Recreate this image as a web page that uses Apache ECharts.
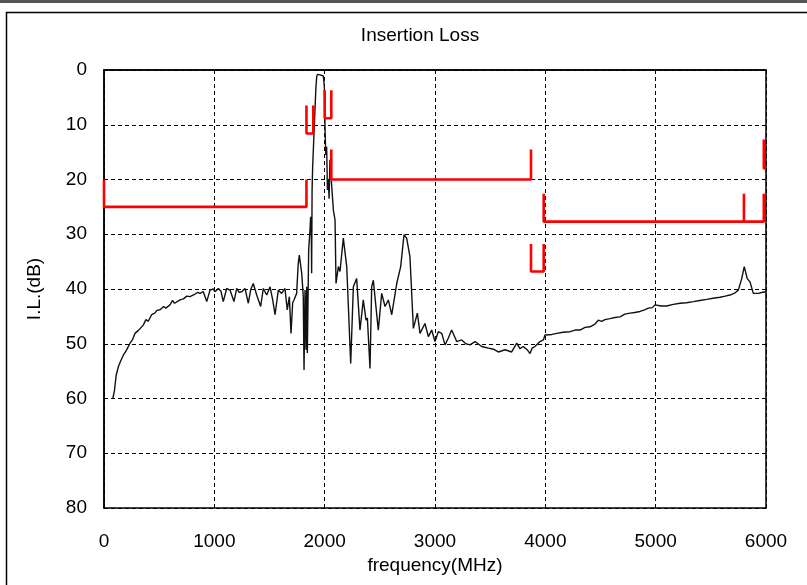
<!DOCTYPE html>
<html>
<head>
<meta charset="utf-8">
<script src="https://cdn.jsdelivr.net/npm/echarts@6/dist/echarts.min.js"></script>
<style>
html,body{margin:0;padding:0;background:#fff;}
#chart{width:807px;height:585px;}
</style>
</head>
<body>
<div id="chart"></div>
<script>
// Measured insertion loss curve: [frequency MHz, loss dB]
var lossCurve = [
[80,60],[95,58.5],[110,55.8],[130,54.2],[150,53.2],[175,52.1],[200,51.3],[236,49.9],[260,49.2],[281,48.1],
[310,47.6],[356,46.6],[380,45.6],[400,45.9],[432,44.7],[460,44.4],[480,43.9],[508,43.8],[540,43.2],[560,43.5],
[598,42.9],[620,42.1],[640,42.6],[689,42.0],[720,41.8],[750,41.3],[780,41.4],[820,41.0],[850,40.6],[870,40.8],
[900,40.5],[931,42.3],[961,40.2],[990,40.0],[1006,40.5],[1036,39.9],[1060,40.4],[1081,42.3],[1112,39.9],[1142,40.2],
[1178,42.3],[1203,39.9],[1225,40.6],[1248,40.5],[1278,39.9],[1308,42.6],[1330,40.1],[1353,39.0],[1384,41.1],[1420,43.2],
[1444,39.9],[1475,41.1],[1505,39.6],[1529,42.0],[1550,44.7],[1580,40.2],[1610,40.8],[1640,39.9],[1661,43.8],[1680,41.4],
[1695,48.1],[1710,42.5],[1722,42.0],[1746,40.8],[1760,35.5],[1770,33.8],[1792,37.1],[1806,41.4],[1813,54.8],[1822,40.2],
[1831,51.1],[1837,39.6],[1843,51.7],[1855,32.9],[1867,29.2],[1873,26.8],[1878,27.5],[1882,37.1],[1886,22.0],[1891,17.7],
[1912,7.3],[1920,3.5],[1928,1.2],[1935,0.8],[1958,0.9],[1975,0.9],[1988,1.1],[1997,3.0],[2003,10.4],[2010,15.5],
[2018,14.0],[2025,21.9],[2034,20.1],[2040,23.5],[2048,16.4],[2064,21.3],[2079,25.6],[2094,27.4],[2103,39.0],[2124,35.9],
[2139,36.8],[2169,30.7],[2200,35.9],[2236,53.6],[2260,39.6],[2290,38.1],[2320,47.5],[2350,42.0],[2375,45.7],[2387,45.3],
[2411,54.5],[2426,39.6],[2441,38.4],[2486,47.5],[2517,40.8],[2547,43.2],[2577,42.0],[2608,44.7],[2653,39.0],[2689,35.9],
[2719,30.1],[2743,30.7],[2773,34.1],[2804,47.2],[2840,44.4],[2864,48.1],[2909,46.3],[2940,48.7],[2970,47.5],[3000,49.6],
[3030,47.8],[3061,48.1],[3091,50.2],[3120,49.0],[3151,47.5],[3197,49.6],[3242,49.3],[3280,50.0],[3317,50.2],[3363,49.6],
[3423,50.5],[3484,50.8],[3530,51.0],[3574,51.5],[3635,51.1],[3695,51.5],[3741,49.9],[3770,50.9],[3800,50.5],[3840,51.2],
[3861,51.8],[3880,50.8],[3906,50.5],[3952,49.6],[3982,49.3],[3997,48.4],[4012,48.4],[4060,48.3],[4103,48.1],[4160,47.9],
[4224,47.8],[4270,47.5],[4314,47.5],[4360,47.0],[4405,46.9],[4450,46.4],[4480,45.7],[4511,45.9],[4540,45.6],[4586,45.4],
[4630,45.2],[4677,45.1],[4720,44.6],[4768,44.4],[4810,44.3],[4858,44.1],[4900,43.8],[4934,43.5],[4970,43.4],[4994,42.9],
[5050,43.1],[5100,43.1],[5160,42.8],[5221,42.6],[5280,42.5],[5341,42.3],[5400,42.1],[5462,41.9],[5520,41.7],[5583,41.5],
[5630,41.3],[5674,41.1],[5720,40.7],[5749,40.2],[5780,38.1],[5803,35.9],[5830,38.1],[5855,38.7],[5885,40.8],[5931,40.8],
[5970,40.6],[6000,40.5]
];

// Specification mask segments (red): [frequency MHz, dB]
var maskA = [[0,20],[0,25],[1835,25],[1835,20]];
var maskB = [[1835,6.5],[1835,11.6],[1897,11.6],[1897,6.5]];
var maskC = [[2000,3.7],[2000,8.8],[2060,8.8],[2060,3.7]];
var maskD = [[2060,14.5],[2060,20],[3870,20],[3870,14.5]];
var maskE = [[3870,31.8],[3870,36.8],[3985,36.8],[3985,31.8]];
var maskF = [[3985,22.6],[3985,27.7],[5980,27.7],[5980,22.6]];
var maskG = [[5800,22.6],[5800,27.7]];
var maskH = [[5980,12.7],[5980,18],[6000,18]];
var masks = [maskA, maskB, maskC, maskD, maskE, maskF, maskG, maskH];

var xTicks = [0, 6000, 1000];   // min, max, interval
var yTicks = [0, 80, 10];

var FONT = "'Liberation Sans', Arial, sans-serif";

var chart = echarts.init(document.getElementById('chart'), null, {renderer: 'canvas'});

var series = [{
  type: 'line',
  data: lossCurve,
  showSymbol: false,
  symbol: 'none',
  lineStyle: {color: '#111', width: 1.4},
  z: 3,
  animation: false
}];
masks.forEach(function (m) {
  series.push({
    type: 'line',
    data: m,
    symbol: 'none',
    lineStyle: {color: '#ff0000', width: 2.6},
    z: 4,
    clip: false,
    animation: false
  });
});

chart.setOption({
  animation: false,
  backgroundColor: '#fff',
  textStyle: {fontFamily: FONT},
  graphic: [
    {type: 'rect', shape: {x: 0, y: 0, width: 807, height: 3}, style: {fill: '#555'}, silent: true},
    {type: 'rect', shape: {x: 6.5, y: 12.5, width: 820, height: 600}, style: {fill: 'none', stroke: '#000', lineWidth: 1.5}, silent: true, z: -1},
    {type: 'text', x: 420, y: 36, style: {text: 'Insertion Loss', font: '19px ' + FONT, fill: '#000', textAlign: 'center', textVerticalAlign: 'middle'}, silent: true}
  ],
  grid: {
    left: 104, top: 70, right: 41, bottom: 77,
    show: true, borderColor: '#000', borderWidth: 1.5, backgroundColor: '#fff'
  },
  xAxis: {
    type: 'value',
    min: xTicks[0], max: xTicks[1], interval: xTicks[2],
    name: 'frequency(MHz)',
    nameLocation: 'middle',
    nameGap: 43,
    nameTextStyle: {fontSize: 19, color: '#000', fontFamily: FONT},
    axisLine: {show: true, lineStyle: {color: '#000', width: 1.5}},
    axisTick: {show: false},
    axisLabel: {fontSize: 19, color: '#000', margin: 24, fontFamily: FONT,
      formatter: function (v) { return String(v); }},
    splitLine: {show: true, lineStyle: {color: '#000', type: [4, 3], width: 1}}
  },
  yAxis: {
    type: 'value',
    inverse: true,
    min: yTicks[0], max: yTicks[1], interval: yTicks[2],
    name: 'I.L.(dB)',
    nameLocation: 'middle',
    nameGap: 60,
    nameRotate: 90,
    nameTextStyle: {fontSize: 19, color: '#000', fontFamily: FONT},
    axisLine: {show: true, lineStyle: {color: '#000', width: 1.5}},
    axisTick: {show: false},
    axisLabel: {fontSize: 19, color: '#000', margin: 17, fontFamily: FONT},
    splitLine: {show: true, lineStyle: {color: '#000', type: [4, 3], width: 1}}
  },
  series: series
});
</script>
</body>
</html>
